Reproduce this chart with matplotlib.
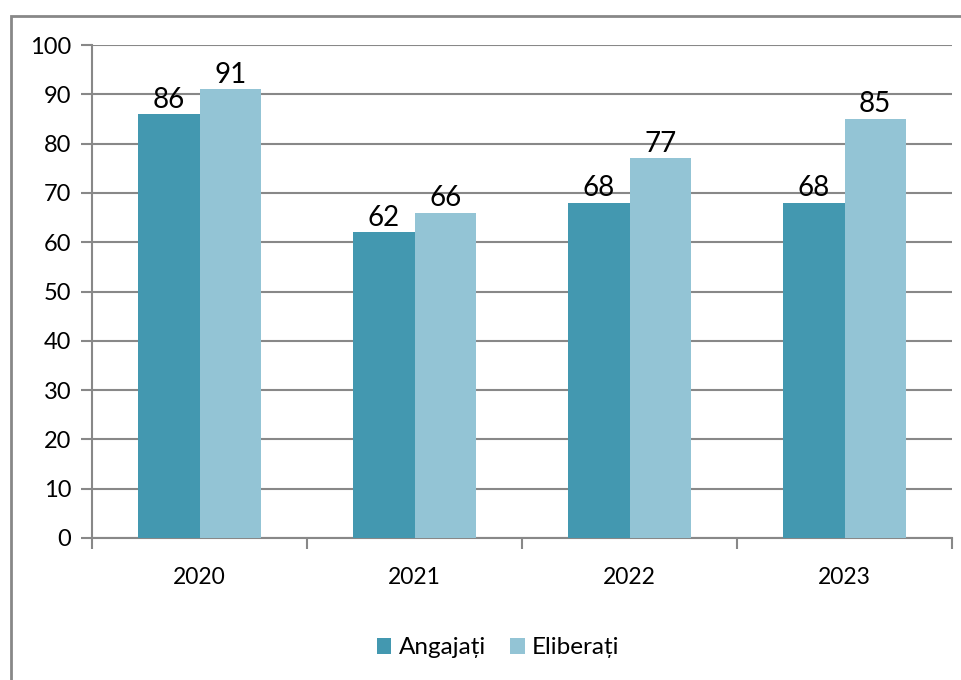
import matplotlib.pyplot as plt
import matplotlib.patches as mpatches
import numpy as np

# chart data
years = ["2020", "2021", "2022", "2023"]
angajati = [86, 62, 68, 68]
eliberati = [91, 66, 77, 85]
series_names = ["Angajați", "Eliberați"]

dark = "#4398B0"
light = "#93C4D5"
grid_col = "#888888"

plt.rcParams['font.family'] = ['Lato', 'DejaVu Sans']

fig = plt.figure(figsize=(9.61, 6.80), dpi=100)
ax = fig.add_axes([92 / 961, 1 - 538 / 680, 860 / 961, 493 / 680])

x = np.arange(len(years))
w = 1 / 3.5
b1 = ax.bar(x - w / 2, angajati, w, color=dark, label=series_names[0], zorder=3)
b2 = ax.bar(x + w / 2, eliberati, w, color=light, label=series_names[1], zorder=3)

for bars, vals in ((b1, angajati), (b2, eliberati)):
    for r, v in zip(bars, vals):
        ax.text(r.get_x() + r.get_width() / 2, v + 0.3, str(v),
                ha='center', va='bottom', fontsize=20, zorder=4)

ax.set_xlim(-0.5, len(years) - 0.5)
ax.set_ylim(0, 100)
ax.set_yticks(range(0, 101, 10))
ax.yaxis.grid(True, color=grid_col, lw=1.5, zorder=0)
ax.set_axisbelow(True)

# category labels between boundary ticks
ax.set_xticks(np.arange(-0.5, len(years), 1.0))
ax.set_xticklabels([])
ax.set_xticks(x, minor=True)
ax.set_xticklabels(years, minor=True, fontsize=16.5)
ax.tick_params(axis='x', which='major', length=8, width=1.5, color=grid_col, direction='out')
ax.tick_params(axis='x', which='minor', length=0, pad=21)
ax.tick_params(axis='y', length=8, width=1.5, color=grid_col, labelsize=17, pad=7)

for s in ('top', 'right'):
    ax.spines[s].set_visible(False)
ax.spines['left'].set_color(grid_col)
ax.spines['left'].set_linewidth(1.5)
ax.spines['bottom'].set_color(grid_col)
ax.spines['bottom'].set_linewidth(1.5)

# outer chart border
fig.patches.append(mpatches.Rectangle((11 / 961, -0.1), 1.1, 1 - 16 / 680 + 0.1,
                                      transform=fig.transFigure, fill=False,
                                      edgecolor=grid_col, lw=2))

fig.legend(loc='center', bbox_to_anchor=(498 / 961, 1 - 648 / 680), ncol=2,
           frameon=False, fontsize=17.5, handlelength=0.6, handleheight=0.6,
           handletextpad=0.3, columnspacing=1.0)

fig.savefig("out.png", dpi=100)
